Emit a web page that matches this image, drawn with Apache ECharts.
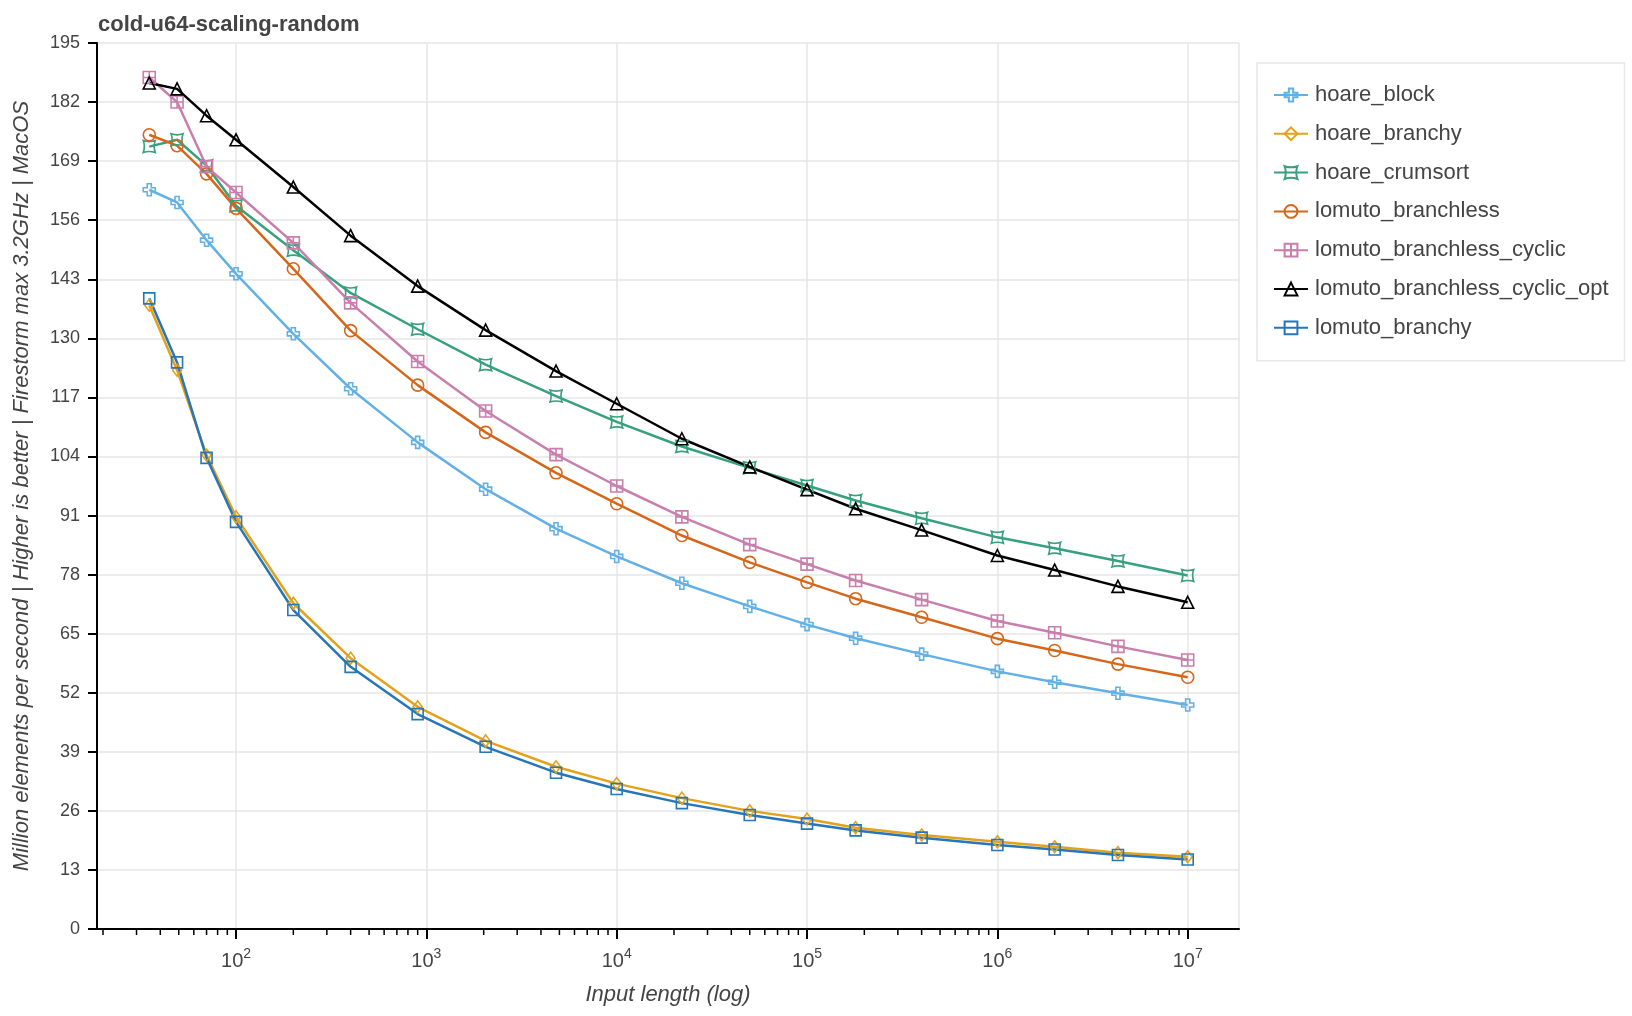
<!DOCTYPE html>
<html>
<head>
<meta charset="utf-8">
<script src="https://cdn.jsdelivr.net/npm/echarts@6/dist/echarts.min.js"></script>
<style>
html,body{margin:0;padding:0;background:#fff;}
#chart{width:1632px;height:1016px;}
</style>
</head>
<body>
<div id="chart"></div>
<script>
const titleText = 'cold-u64-scaling-random';
const xName = 'Input length (log)';
const yName = 'Million elements per second | Higher is better | Firestorm max 3.2GHz | MacOS';

const inputLengths = [35, 49, 70, 100, 200, 400, 900, 2048, 4800, 10000, 22000, 50000, 100000, 180000, 400000, 1000000, 2000000, 4300000, 10000000];

const hoare_block = [162.7, 159.9, 151.6, 144.2, 131.0, 118.9, 107.1, 96.8, 88.1, 82.0, 76.1, 71.0, 67.0, 64.0, 60.5, 56.7, 54.3, 51.9, 49.3];
const hoare_branchy = [137.3, 123.0, 104.3, 90.7, 71.7, 59.6, 48.9, 41.4, 35.7, 32.0, 28.8, 26.0, 24.2, 22.3, 20.7, 19.2, 18.1, 16.8, 15.9];
const hoare_crumsort = [172.2, 173.7, 168.0, 159.2, 149.4, 140.0, 132.0, 124.2, 117.3, 111.6, 106.2, 101.5, 97.6, 94.3, 90.4, 86.2, 83.8, 81.0, 77.8];
const lomuto_branchless = [174.8, 172.4, 166.2, 158.6, 145.3, 131.7, 119.7, 109.3, 100.4, 93.6, 86.6, 80.7, 76.3, 72.7, 68.6, 63.9, 61.3, 58.3, 55.4];
const lomuto_branchless_cyclic = [187.4, 182.0, 167.8, 162.1, 151.0, 137.8, 124.9, 114.0, 104.4, 97.5, 90.7, 84.6, 80.3, 76.7, 72.5, 67.8, 65.2, 62.2, 59.2];
const lomuto_branchless_cyclic_opt = [186.2, 184.9, 179.0, 173.7, 163.3, 152.6, 141.5, 131.8, 122.8, 115.6, 107.9, 101.7, 96.7, 92.5, 87.8, 82.2, 79.0, 75.4, 71.9];
const lomuto_branchy = [138.8, 124.7, 103.7, 89.6, 70.2, 57.7, 47.3, 40.1, 34.4, 30.8, 27.7, 25.1, 23.2, 21.7, 20.1, 18.5, 17.5, 16.3, 15.3];

const seriesNames = ['hoare_block', 'hoare_branchy', 'hoare_crumsort', 'lomuto_branchless', 'lomuto_branchless_cyclic', 'lomuto_branchless_cyclic_opt', 'lomuto_branchy'];
const seriesValues = [hoare_block, hoare_branchy, hoare_crumsort, lomuto_branchless, lomuto_branchless_cyclic, lomuto_branchless_cyclic_opt, lomuto_branchy];
const seriesColors = ['#62b0e6', '#e3a21c', '#37a07c', '#d4671a', '#c97fad', '#000000', '#2776b6'];

const xMin = 18.6, xMax = 1.86e7;
const yMin = 0, yMax = 195, yStep = 13;
const decadeExponents = [1, 2, 3, 4, 5, 6, 7];
const minorMultiples = [2, 3, 4, 5, 6, 7, 8, 9];

const symbols = [
  'path://M3.3,0 L6.7,0 L6.7,3.3 L10,3.3 L10,6.7 L6.7,6.7 L6.7,10 L3.3,10 L3.3,6.7 L0,6.7 L0,3.3 L3.3,3.3 Z',
  'diamond',
  'path://M0,0 Q5,1.8 10,0 Q8.2,5 10,10 Q5,8.2 0,10 Q1.8,5 0,0 Z',
  'circle',
  'path://M0,0 L10,0 L10,10 L0,10 Z M5,0 L5,10 M0,5 L10,5',
  'triangle',
  'rect'
];
const symbolSizes = [12, [9, 12], 12, 12, 12, 12, 11];

const minorTicks = [];
decadeExponents.forEach(e => minorMultiples.forEach(m => {
  const v = m * Math.pow(10, e);
  if (v > xMin && v < xMax) minorTicks.push([v, yMin]);
}));

const font = 'Liberation Sans';

const series = seriesNames.map((name, i) => ({
  name: name,
  type: 'line',
  data: inputLengths.map((x, j) => [x, seriesValues[i][j]]),
  symbol: symbols[i],
  symbolSize: symbolSizes[i],
  showSymbol: true,
  lineStyle: { color: seriesColors[i], width: 2.5 },
  itemStyle: { color: 'rgba(255,255,255,0)', borderColor: seriesColors[i], borderWidth: 1.6 },
  emphasis: { disabled: true },
  z: 3
}));

series.push({
  type: 'custom',
  name: 'minorTicks',
  coordinateSystem: 'cartesian2d',
  data: minorTicks,
  silent: true,
  clip: false,
  z: 10,
  renderItem: function (params, api) {
    const p = api.coord([api.value(0), api.value(1)]);
    return {
      type: 'line',
      shape: { x1: p[0], y1: p[1], x2: p[0], y2: p[1] + 6 },
      style: { stroke: '#000', lineWidth: 1.5 }
    };
  }
});

const chart = echarts.init(document.getElementById('chart'), null, { renderer: 'canvas' });
chart.setOption({
  animation: false,
  backgroundColor: '#fff',
  textStyle: { fontFamily: font },
  title: {
    text: titleText,
    left: 93,
    top: 9,
    textStyle: { fontFamily: font, fontSize: 22, fontWeight: 'bold', color: '#444' }
  },
  grid: { left: 97, right: 393, top: 43, bottom: 87, containLabel: false },
  legend: {
    data: seriesNames,
    orient: 'vertical',
    left: 1257,
    top: 63,
    padding: [21, 16, 22, 16],
    itemWidth: 34,
    itemHeight: 16,
    itemGap: 16.8,
    backgroundColor: '#fff',
    borderColor: '#e8e8e8',
    borderWidth: 1.5,
    textStyle: { fontFamily: font, fontSize: 22, color: '#444', padding: [0, 0, 0, 2] }
  },
  xAxis: {
    type: 'log',
    logBase: 10,
    min: xMin,
    max: xMax,
    name: xName,
    nameLocation: 'middle',
    nameGap: 55,
    nameTextStyle: { fontFamily: font, fontSize: 22, fontStyle: 'italic', color: '#444' },
    axisLine: { show: true, onZero: false, lineStyle: { color: '#000', width: 2 } },
    axisTick: { show: true, length: 10, lineStyle: { color: '#000', width: 2 } },
    axisLabel: {
      showMinLabel: false,
      showMaxLabel: false,
      margin: 18,
      formatter: function (v) {
        const e = Math.round(Math.log10(v));
        return '{b|10}{s|' + e + '}';
      },
      rich: {
        b: { fontFamily: font, fontSize: 20, color: '#444', lineHeight: 24, verticalAlign: 'bottom' },
        s: { fontFamily: font, fontSize: 14, color: '#444', lineHeight: 24, verticalAlign: 'top', padding: [0, 0, 0, 0] }
      }
    },
    splitLine: { show: true, lineStyle: { color: '#e6e6e6', width: 1.5 } },
    minorTick: { show: false }
  },
  yAxis: {
    type: 'value',
    min: yMin,
    max: yMax,
    interval: yStep,
    name: yName,
    nameLocation: 'middle',
    nameGap: 64,
    nameTextStyle: { fontFamily: font, fontSize: 22, fontStyle: 'italic', color: '#444' },
    axisLine: { show: true, lineStyle: { color: '#000', width: 2 } },
    axisTick: { show: true, length: 9, lineStyle: { color: '#000', width: 2 } },
    axisLabel: { fontFamily: font, fontSize: 18, color: '#444', margin: 17 },
    splitLine: { show: true, lineStyle: { color: '#e6e6e6', width: 1.5 } }
  },
  series: series
});
</script>
</body>
</html>
